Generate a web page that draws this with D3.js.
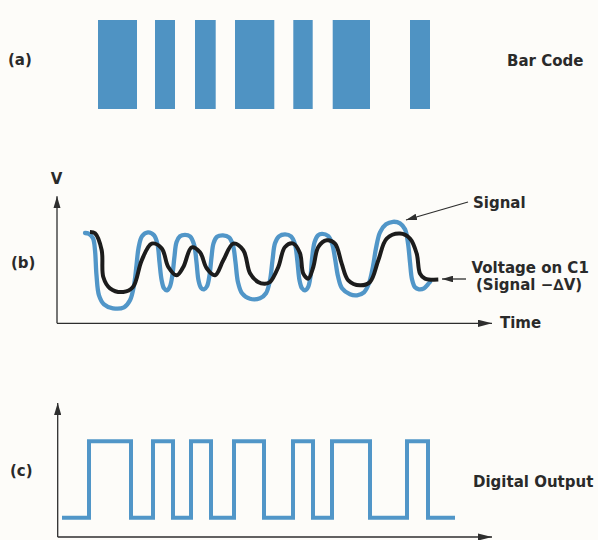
<!DOCTYPE html>
<html>
<head>
<meta charset="utf-8">
<script src="https://cdn.jsdelivr.net/npm/d3@7/dist/d3.min.js"></script>
<style>
  html, body { margin: 0; padding: 0; background: #fdfcf9; }
  svg { display: block; }
  text { font-family: "DejaVu Sans", sans-serif; font-weight: bold; fill: #2a2a2a; font-size: 15px; }
</style>
</head>
<body>
<svg id="chart" width="598" height="540"></svg>
<script>
// ---------- DATA ----------
// Bar code: bar start / end (time units)
const barStarts = [41, 98, 138, 178, 236.3, 275.7, 353];
const barEnds   = [80, 118, 158.7, 217.3, 255.7, 313, 373];

// Signal (blue) trace: time, voltage
const signalT = [28, 32, 36, 38, 39.5, 42, 47, 56, 67, 73, 77, 79.5, 81.5, 85, 91, 97, 100.5, 102.5, 104.5, 107, 110, 113, 115.5, 117.5, 119.5, 123, 128, 133, 137, 139.5, 141.5, 144, 147, 150, 152.5, 154.5, 156.5, 160, 166, 172, 176, 178.5, 181, 185, 193, 203, 209, 213, 215.5, 218, 222, 228, 234, 238, 240.5, 242.5, 245, 248, 251, 253.5, 255, 257.5, 261, 265, 271, 275, 278, 281, 285, 293, 300, 307, 312, 316, 319, 323, 329, 336, 343, 348, 351, 353, 355, 358, 362, 367, 371, 373];
const signalV = [90.3, 89.5, 85, 73, 48, 28, 19, 15, 16, 23, 38, 58, 75, 87, 91, 88, 79, 61, 44, 35, 33, 37, 49, 67, 81, 87, 88.5, 87, 79, 61, 43, 35.5, 34, 37, 48, 66, 80, 86.5, 88, 86, 78, 61, 41, 30, 24.5, 25, 30, 43, 63, 80, 87, 89, 87, 79, 61, 43, 35, 33, 36, 47, 64, 81, 88, 89.5, 87.5, 80, 65, 47, 35, 29, 28, 31, 40, 57, 75, 91, 99, 101.5, 100, 94, 80, 61, 44, 36, 34, 35, 39, 41.3];

// Voltage on C1 (black) trace: time, voltage
const c1T = [33, 38, 44.7, 46.3, 53, 66.3, 76, 84.7, 94.7, 104.7, 111.3, 119.7, 126.3, 134.7, 143, 149.7, 158, 166.3, 176.3, 186.3, 193, 201, 208, 213, 221.3, 228, 236.3, 243, 246.3, 251.3, 256.3, 261.3, 269.7, 278, 284.7, 291.3, 303, 313, 321.3, 329.7, 343, 353, 359.7, 363, 368, 381.3];
const c1V = [91.3, 90, 73, 46.3, 35, 31.3, 36.3, 63, 79.7, 75, 56.3, 48, 56.3, 76, 71, 55, 48, 63, 79.7, 73, 50, 41.3, 39.5, 41.3, 56.3, 76.3, 79.7, 70, 49.7, 44.7, 56.3, 76.3, 83, 79.7, 59.7, 43, 38, 41.3, 63, 84.7, 89.7, 84.7, 69.7, 49.7, 44.7, 43.7];

// Digital output: transition times and logic levels
const digitalT = [5, 32, 74, 96, 116, 134, 154, 177, 207, 236, 256, 275, 313, 350, 371, 398];
const digitalL = [0, 1, 0, 1, 0, 1, 0, 1, 0, 1, 0, 1, 0, 1, 0, 0];

// Labels
const panelLabels = ["(a)", "(b)", "(c)"];
const barCodeLabel = "Bar Code";
const signalLabel = "Signal";
const c1Label = ["Voltage on C1", "(Signal \u2212\u2206V)"];
const vLabel = "V";
const timeLabel = "Time";
const digitalLabel = "Digital Output";

// ---------- DRAW ----------
const svg = d3.select("#chart");
const blue = "#5196c8";
const barBlue = "#4f93c3";
const ink = "#2e2e2e";

const x = d3.scaleLinear().domain([0, 435]).range([57, 492]);
const yV = d3.scaleLinear().domain([0, 127]).range([323.3, 196.3]);
const yD = d3.scaleLinear().domain([-0.25, 1.5]).range([537, 403]);

const defs = svg.append("defs");
function marker(id, len, half) {
  defs.append("marker")
    .attr("id", id).attr("markerUnits", "userSpaceOnUse")
    .attr("viewBox", `0 ${-half} ${len} ${2*half}`)
    .attr("refX", len).attr("refY", 0)
    .attr("markerWidth", len).attr("markerHeight", 2*half)
    .attr("orient", "auto")
    .append("path").attr("d", `M0,${-half}L${len},0L0,${half}Z`).attr("fill", ink);
}
marker("axisArrow", 14, 3.6);
marker("yArrow", 12, 3.6);
marker("noteArrow", 11, 3.3);

// (a) bar code
svg.append("g").selectAll("rect")
  .data(barStarts.map((s, i) => [s, barEnds[i]]))
  .join("rect")
  .attr("x", d => x(d[0]))
  .attr("width", d => x(d[1]) - x(d[0]))
  .attr("y", 20).attr("height", 89)
  .attr("fill", barBlue);

// (b) axes
svg.append("line").attr("x1", x(0)).attr("x2", x(0)).attr("y1", yV(0)).attr("y2", yV(127))
  .attr("stroke", ink).attr("stroke-width", 1.3).attr("marker-end", "url(#yArrow)");
svg.append("line").attr("x1", x(0)).attr("x2", x(435)).attr("y1", yV(0)).attr("y2", yV(0))
  .attr("stroke", ink).attr("stroke-width", 1.3).attr("marker-end", "url(#axisArrow)");

const lineGen = d3.line().x(d => x(d[0])).y(d => yV(d[1])).curve(d3.curveCatmullRom.alpha(0.5));
svg.append("path").datum(signalT.map((t, i) => [t, signalV[i]]))
  .attr("d", lineGen).attr("fill", "none").attr("stroke", blue)
  .attr("stroke-width", 4.3).attr("stroke-linecap", "round").attr("stroke-linejoin", "round");
svg.append("path").datum(c1T.map((t, i) => [t, c1V[i]]))
  .attr("d", lineGen).attr("fill", "none").attr("stroke", "#1c1c1c")
  .attr("stroke-width", 4).attr("stroke-linecap", "butt").attr("stroke-linejoin", "round");

// annotation arrows
svg.append("line").attr("x1", 468).attr("y1", 202).attr("x2", 406).attr("y2", 220)
  .attr("stroke", ink).attr("stroke-width", 1.3).attr("marker-end", "url(#noteArrow)");
svg.append("line").attr("x1", 466).attr("y1", 279).attr("x2", 442).attr("y2", 279)
  .attr("stroke", ink).attr("stroke-width", 1.3).attr("marker-end", "url(#noteArrow)");

// (c) axes
svg.append("line").attr("x1", x(0.7)).attr("x2", x(0.7)).attr("y1", yD(-0.25)).attr("y2", yD(1.5))
  .attr("stroke", ink).attr("stroke-width", 1.3).attr("marker-end", "url(#yArrow)");
svg.append("line").attr("x1", x(0.7)).attr("x2", x(435)).attr("y1", yD(-0.25)).attr("y2", yD(-0.25))
  .attr("stroke", ink).attr("stroke-width", 1.3).attr("marker-end", "url(#axisArrow)");

svg.append("path").datum(digitalT.map((t, i) => [t, digitalL[i]]))
  .attr("d", d3.line().x(d => x(d[0])).y(d => yD(d[1])).curve(d3.curveStepAfter))
  .attr("fill", "none").attr("stroke", blue).attr("stroke-width", 4).attr("stroke-linejoin", "miter");

// texts
const txt = (s, tx, ty, anchor) => svg.append("text").attr("x", tx).attr("y", ty)
  .attr("text-anchor", anchor || "start").text(s);
txt(panelLabels[0], 8, 65);
txt(panelLabels[1], 11, 268);
txt(panelLabels[2], 10, 476);
txt(barCodeLabel, 507, 66);
txt(vLabel, 56.5, 184, "middle");
txt(signalLabel, 473, 208);
txt(c1Label[0], 471.5, 273);
txt(c1Label[1], 476, 290);
txt(timeLabel, 500, 327.5);
txt(digitalLabel, 473, 487);
</script>
</body>
</html>
